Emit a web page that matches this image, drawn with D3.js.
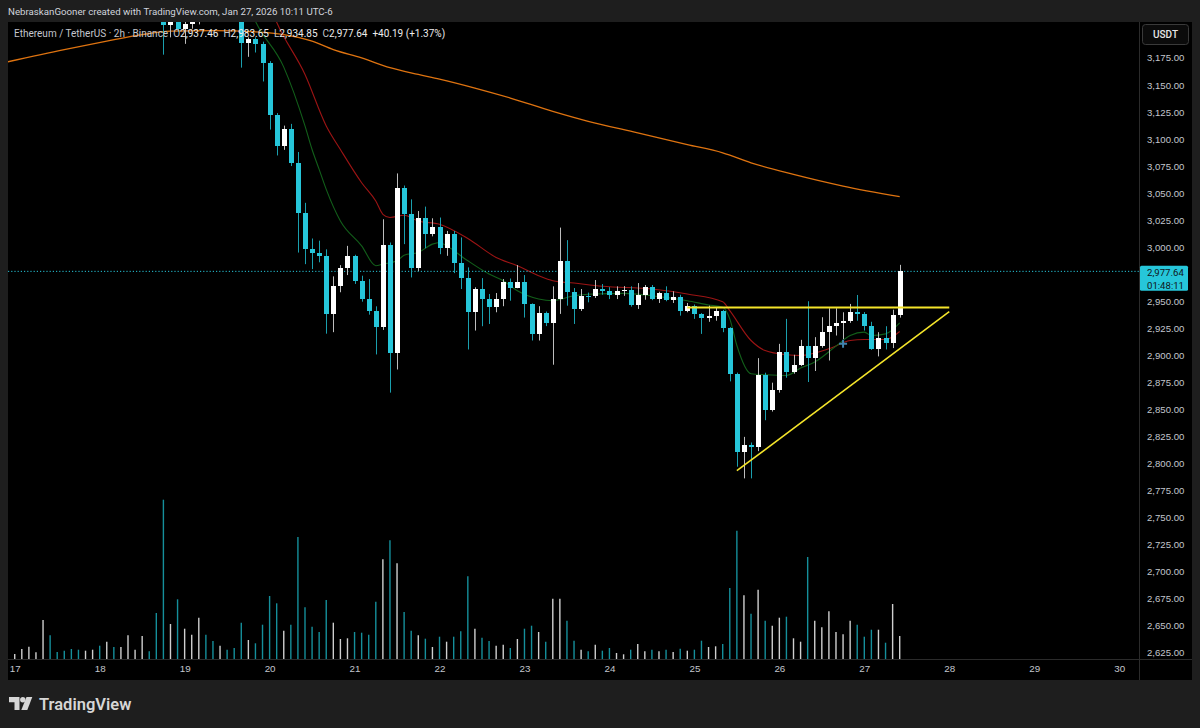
<!DOCTYPE html>
<html>
<head>
<meta charset="utf-8">
<title>Ethereum / TetherUS 2h</title>
<script src="https://cdn.jsdelivr.net/npm/d3@7"></script>
<style>
    html, body { margin: 0; padding: 0; background: #1e1e1e; }
    svg { display: block; font-family: Roboto, 'Noto Sans', sans-serif; }
</style>
</head>
<body>
<svg id="chart"></svg>
<script>
// 2h candles, index 0 = Jan 17 00:00 (UTC-6), 12 candles per day
const opens = [
    3288, 3296, 3302, 3309, 3312, 3334, 3318, 3315, 3311, 3306, 3302, 3306,
    3309, 3301, 3310, 3303, 3307, 3318, 3321, 3329, 3324, 3290, 3205.5, 3214,
    3201.5, 3206, 3208.5, 3216, 3214, 3213, 3222, 3217, 3213, 3188.6, 3192.3, 3188,
    3170.2, 3122.5, 3093.3, 3109.4, 3078, 3032, 2998.2, 2995, 2992, 2938.3, 2964.3, 2980.6,
    2991.4, 2969, 2952.1, 2941.3, 2926.6, 3001.8, 2902.3, 3055, 3030.4, 2980.6, 3027.4, 3012,
    3018.4, 2999, 3012.6, 2985.3, 2971.4, 2940.4, 2961.3, 2952.1, 2945, 2952.1, 2968, 2962.5,
    2967.5, 2947.2, 2919.8, 2939.2, 2929.7, 2952.1, 2986.8, 2958.3, 2942.9, 2955.1, 2954.5, 2961.3,
    2959.5, 2955.8, 2959.5, 2960.5, 2946.8, 2956, 2962.9, 2952.1, 2957.3, 2951.4, 2954.2, 2941.3,
    2945.9, 2938.3, 2934.3, 2936.7, 2941, 2925.1, 2883, 2810.8, 2816.9, 2815.5, 2881.4, 2849.2,
    2868.2, 2903.5, 2884.5, 2891.3, 2908.5, 2897.7, 2908.5, 2922, 2927.5, 2929.7, 2931.6, 2940.4,
    2938, 2927.5, 2906, 2915.9, 2911.3, 2937.46
]
const highs = [
    3300, 3306, 3313, 3316, 3342, 3338, 3322, 3319, 3315, 3310, 3309, 3313,
    3312, 3316, 3313, 3311, 3324, 3325, 3336, 3332, 3327, 3294, 3216, 3218,
    3210, 3214, 3220, 3222, 3220, 3228, 3226, 3221, 3216, 3194, 3194, 3190,
    3172, 3124, 3112.4, 3114, 3088, 3041, 3008, 3006, 2998, 2973, 2983.4, 3001.2,
    2993, 2973.6, 2970.5, 2945.3, 3025.8, 3004.3, 3068.2, 3057, 3044.2, 3033.4, 3037.5, 3026.7,
    3027.4, 3015, 3015, 3009, 2981.3, 2962.9, 2971.4, 2956.7, 2957.6, 2970.5, 2971, 2983.4,
    2974.2, 2948, 2945.4, 2940.5, 2963.8, 3018.1, 3006.5, 2962.2, 2961.3, 2958, 2969.6, 2965.9,
    2963, 2963.8, 2964, 2963.8, 2966.8, 2965, 2965, 2958.8, 2963.8, 2959.2, 2956, 2948.4,
    2947, 2939, 2945.9, 2944, 2942, 2926, 2884, 2824.6, 2819.4, 2897.4, 2883.9, 2874.7,
    2910.6, 2933.7, 2900.5, 2914.3, 2950, 2916.8, 2935.2, 2943.5, 2943.5, 2939.8, 2947.5, 2955.8,
    2940, 2931, 2921.4, 2926.9, 2942.2, 2983.65
]
const lows = [
    3284, 3292, 3298, 3305, 3308, 3312, 3310, 3307, 3302, 3298, 3299, 3303,
    3296, 3298, 3299, 3300, 3304, 3314, 3316, 3319, 3278, 3178, 3194, 3199,
    3188, 3202, 3206, 3212, 3211, 3211, 3213, 3210, 3166, 3176, 3180, 3153.2,
    3108.7, 3084.8, 3090, 3075, 2995, 2984.3, 2979.7, 2986, 2920, 2921.4, 2958.3, 2974.2,
    2966, 2949.6, 2937.6, 2900.8, 2923.5, 2865.5, 2886.9, 3002.8, 2972, 2978, 2999, 3010,
    2993.5, 2992, 2976, 2961.3, 2905.4, 2922.9, 2926.9, 2929, 2939.8, 2945.4, 2950.5, 2962,
    2934.9, 2913.7, 2913.7, 2927, 2891.3, 2938.3, 2945.9, 2929, 2941, 2949, 2953, 2956,
    2952, 2952, 2955, 2945, 2942.9, 2951.4, 2951, 2948.4, 2950, 2948.4, 2936.7, 2939.8,
    2933.7, 2919.8, 2931, 2932, 2921.4, 2875.9, 2797, 2786.2, 2786.2, 2811.4, 2840, 2848,
    2865.5, 2879.3, 2883, 2890, 2875.3, 2885.5, 2907, 2895.2, 2918.3, 2915, 2930, 2932,
    2922.9, 2905, 2899, 2905.4, 2906.7, 2934.85
]
const closes = [
    3296, 3302, 3309, 3312, 3334, 3318, 3315, 3311, 3306, 3302, 3306, 3309,
    3301, 3310, 3303, 3307, 3318, 3321, 3329, 3324, 3290, 3205.5, 3214, 3201.5,
    3206, 3208.5, 3216, 3214, 3213, 3222, 3217, 3213, 3188.6, 3192.3, 3187.9, 3170.2,
    3122.5, 3093.3, 3109.4, 3078, 3032, 2998.2, 2995, 2992, 2938.3, 2964.3, 2980.6, 2991.4,
    2969, 2952.1, 2941.3, 2926.6, 3001.8, 2902.3, 3055, 3030.4, 2980.6, 3027.4, 3012, 3018.4,
    2999, 3012.6, 2985.3, 2971.4, 2940.4, 2961.3, 2952.1, 2945, 2952.1, 2968, 2962.5, 2967.5,
    2947.2, 2919.8, 2939.2, 2929.7, 2952.1, 2986.8, 2958.3, 2942.9, 2955.1, 2954.5, 2961.3, 2959.5,
    2955.8, 2959.5, 2960.5, 2946.8, 2956, 2962.9, 2952.1, 2957.3, 2951.4, 2954.2, 2941.3, 2945.9,
    2938.3, 2934.3, 2936.7, 2941, 2925.1, 2883, 2810.8, 2816.9, 2815.5, 2881.4, 2849.2, 2868.2,
    2903.5, 2884.5, 2891.3, 2908.5, 2897.7, 2908.5, 2922, 2927.5, 2929.7, 2931.6, 2940.4, 2938,
    2927.5, 2906, 2915.9, 2911.3, 2937.46, 2977.64
]
// volume in hundreds of ETH
const volumes = [
    5.0, 10.0, 12.3, 6.7, 39.0, 23.7, 7.0, 8.3, 10.0, 9.3, 8.3, 9.3,
    13.3, 17.3, 12.0, 12.0, 23.7, 9.3, 23.0, 7.7, 46.0, 159.3, 35.0, 59.7,
    30.3, 24.3, 41.3, 24.3, 18.0, 13.3, 9.3, 11.0, 36.3, 19.0, 15.7, 34.3,
    63.0, 55.7, 28.3, 34.3, 122.0, 51.7, 32.3, 27.0, 59.0, 36.3, 20.0, 20.7,
    27.0, 26.3, 24.3, 57.3, 99.7, 118.7, 95.7, 47.0, 28.3, 23.7, 20.3, 12.0,
    22.3, 17.3, 22.3, 27.7, 82.7, 30.3, 21.3, 18.0, 13.3, 14.3, 11.0, 20.0,
    30.3, 33.3, 27.0, 17.3, 60.3, 60.3, 38.3, 18.3, 9.3, 7.7, 14.3, 8.3,
    11.0, 6.0, 4.7, 9.3, 15.0, 7.7, 9.3, 7.7, 9.3, 7.0, 10.3, 8.3,
    9.3, 18.3, 12.0, 12.7, 15.0, 71.0, 128.3, 63.7, 45.3, 69.3, 38.3, 33.3,
    41.3, 42.3, 20.7, 17.3, 102.0, 38.3, 31.7, 47.7, 27.0, 24.7, 38.3, 34.3,
    22.3, 29.3, 29.3, 16.3, 55.0, 23.0
]

const dayLabels = ['17', '18', '19', '20', '21', '22', '23', '24', '25', '26', '27', '28', '29', '30']
const priceTicks = [2625, 2650, 2675, 2700, 2725, 2750, 2775, 2800, 2825, 2850, 2875, 2900,
    2925, 2950, 2975, 3000, 3025, 3050, 3075, 3100, 3125, 3150, 3175]

// moving averages as [candle index, price]
const maSlowIdx = [-1, 7, 13, 18, 22, 28, 34, 38, 42, 45, 49, 53, 57, 60, 65, 70, 76, 81, 88, 95, 100, 104, 110, 117, 125]
const maSlowVals = [3171.4, 3182.7, 3190.5, 3196.5, 3199.7, 3200.2, 3199, 3196.5, 3190.5, 3182.7, 3175, 3165.9,
    3159.7, 3155.4, 3147.1, 3137.9, 3125.6, 3116.4, 3105.7, 3094.9, 3087.3, 3078, 3067.3, 3056.5, 3046.7]
const maMidIdx = [36, 37, 41, 44, 46, 49, 51, 52, 53, 55, 57, 60, 64, 68, 71, 74, 76, 79, 83, 90, 95, 100, 101, 104, 106, 109, 111, 115, 118, 120, 123, 125]
const maMidVals = [3223.9, 3208, 3159.7, 3112.1, 3090.3, 3059.6, 3042.7, 3030.4, 3027.4, 3029.5, 3024.2, 3021.2,
    3008, 2990.5, 2982.8, 2973.6, 2969, 2966.8, 2963.8, 2961.3, 2956.7, 2949.6, 2941.3, 2913.7,
    2904.4, 2900.5, 2899.8, 2906, 2913.7, 2914.6, 2914.6, 2922]
const maFastIdx = [33, 34, 38, 41, 42, 43, 44, 46, 49, 51, 52, 54, 55, 57, 59, 60, 61, 64, 67, 69, 71, 74, 76, 79,
    82, 86, 90, 95, 98, 100, 101, 102, 104, 106, 109, 111, 113, 116, 118, 120, 121, 123, 125]
const maFastVals = [3223.9, 3208.9, 3166.5, 3112.1, 3090.3, 3071.9, 3053.4, 3024.2, 3001.2, 2982.8, 2984.3, 2987.4,
    2992.6, 2995.1, 3002.8, 3004.3, 3001.2, 2987.4, 2975.1, 2968.9, 2959.7, 2952.1, 2950.5, 2955.1,
    2956.7, 2957.3, 2955.1, 2950.5, 2946.6, 2944.4, 2933.7, 2909.1, 2883, 2882.1, 2881.4, 2888.2,
    2893.8, 2908.5, 2918.3, 2921.4, 2918.3, 2919.8, 2930]

// ascending triangle drawing: [startIdx, startPrice, endIdx, endPrice]
const resistanceLine = [95, 2944.1, 132, 2944.1]
const supportLine = [102, 2793.3, 132, 2940.4]
const cursorMark = [117, 2910.6]

const lastPrice = 2977.64
const countdown = '01:48:11'
const legendTitle = 'Ethereum / TetherUS · 2h · Binance'
const legendItems = [['O', '2,937.46'], ['H', '2,983.65'], ['L', '2,934.85'], ['C', '2,977.64']]
const legendChange = '+40.19 (+1.37%)'
const headerText = 'NebraskanGooner created with TradingView.com, Jan 27, 2026 10:11 UTC-6'

const colors = {
    frame: '#1e1e1e',
    panel: '#000000',
    border: '#2b2b2b',
    up: '#ffffff',
    upWick: '#bdbdbd',
    down: '#26c6da',
    downWick: '#1a9fae',
    volUp: '#cfcfcf',
    volDown: '#158f9b',
    maSlow: '#de7310',
    maMid: '#9c1414',
    maFast: '#125f1a',
    drawing: '#f4e42a',
    text: '#c3c6cd',
}

const W = 1200
const H = 728
const panel = { left: 8, right: 1192, top: 22, bottom: 680 }
const plot = { left: 8, right: 1139, top: 22, bottom: 659 }
const candlesPerDay = 12

const svg = d3.select('#chart').attr('width', W).attr('height', H)

svg.append('rect').attr('width', W).attr('height', H).attr('fill', colors.frame)
svg.append('rect')
    .attr('x', panel.left).attr('y', panel.top)
    .attr('width', panel.right - panel.left).attr('height', panel.bottom - panel.top)
    .attr('fill', colors.panel)

svg.append('defs').append('clipPath').attr('id', 'plot-clip')
    .append('rect')
    .attr('x', plot.left).attr('y', plot.top)
    .attr('width', plot.right - plot.left).attr('height', plot.bottom - plot.top)

const x = d3.scaleLinear().domain([-0.95, 158.8]).range([plot.left, plot.right])
const y = d3.scaleLinear().domain([2619.2, 3208.2]).range([plot.bottom, plot.top])
const vol = d3.scaleLinear().domain([0, 160]).range([plot.bottom, plot.bottom - 160])

const candles = closes.map((c, i) => ({ i, o: opens[i], h: highs[i], l: lows[i], c, v: volumes[i] }))

const g = svg.append('g').attr('clip-path', 'url(#plot-clip)')

// volume
g.append('g').selectAll('line')
    .data(candles)
    .join('line')
    .attr('x1', d => x(d.i)).attr('x2', d => x(d.i))
    .attr('y1', vol(0)).attr('y2', d => vol(d.v))
    .attr('stroke', d => d.c >= d.o ? colors.volUp : colors.volDown)
    .attr('stroke-width', 1.4)

// moving averages
const maLine = d3.line().x(d => x(d[0])).y(d => y(d[1])).curve(d3.curveMonotoneX)
const maSeries = [
    [maSlowIdx, maSlowVals, colors.maSlow, 1.3],
    [maMidIdx, maMidVals, colors.maMid, 1.1],
    [maFastIdx, maFastVals, colors.maFast, 1.1],
]
maSeries.forEach(([idx, vals, color, w]) => {
    g.append('path')
        .datum(idx.map((d, k) => [d, vals[k]]))
        .attr('d', maLine)
        .attr('fill', 'none')
        .attr('stroke', color)
        .attr('stroke-width', w)
})

// last price dotted line
g.append('line')
    .attr('x1', plot.left).attr('x2', plot.right)
    .attr('y1', y(lastPrice)).attr('y2', y(lastPrice))
    .attr('stroke', colors.down)
    .attr('stroke-dasharray', '1.2,2')

// candles
const cg = g.append('g').selectAll('g').data(candles).join('g')
cg.append('line')
    .attr('x1', d => Math.round(x(d.i)) + 0.5).attr('x2', d => Math.round(x(d.i)) + 0.5)
    .attr('y1', d => y(d.h)).attr('y2', d => y(d.l))
    .attr('stroke', d => d.c >= d.o ? colors.upWick : colors.downWick)
cg.append('rect')
    .attr('x', d => Math.round(x(d.i)) - 2)
    .attr('width', 5)
    .attr('y', d => y(Math.max(d.o, d.c)))
    .attr('height', d => Math.max(1, Math.abs(y(d.o) - y(d.c))))
    .attr('fill', d => d.c >= d.o ? colors.up : colors.down)
    .attr('shape-rendering', 'crispEdges')

// triangle drawing
;[resistanceLine, supportLine].forEach(([i0, p0, i1, p1], k) => {
    g.append('line')
        .attr('x1', x(i0)).attr('y1', y(p0))
        .attr('x2', x(i1)).attr('y2', y(p1))
        .attr('stroke', colors.drawing)
        .attr('stroke-width', k === 0 ? 2 : 1.6)
})

// cursor cross
const cx = x(cursorMark[0])
const cy = y(cursorMark[1])
g.append('path')
    .attr('d', `M${cx - 4},${cy}H${cx + 4}M${cx},${cy - 4}V${cy + 4}`)
    .attr('stroke', '#3f83ad')
    .attr('stroke-width', 2)

// borders
svg.append('line')
    .attr('x1', plot.right + 0.5).attr('x2', plot.right + 0.5)
    .attr('y1', panel.top).attr('y2', panel.bottom)
    .attr('stroke', colors.border)
svg.append('line')
    .attr('x1', panel.left).attr('x2', panel.right)
    .attr('y1', plot.bottom + 0.5).attr('y2', plot.bottom + 0.5)
    .attr('stroke', colors.border)

// price axis
const yAxis = d3.axisRight(y)
    .tickValues(priceTicks)
    .tickFormat(d3.format(',.2f'))
    .tickSize(0)
    .tickPadding(8)
svg.append('g')
    .attr('transform', `translate(${plot.right},0)`)
    .call(yAxis)
    .call(a => a.select('.domain').remove())
    .call(a => a.selectAll('text').attr('fill', colors.text).attr('font-size', 9.6).attr('font-family', null))

// time axis
const xAxis = d3.axisBottom(x)
    .tickValues(dayLabels.map((d, k) => k * candlesPerDay))
    .tickFormat((d, k) => dayLabels[k])
    .tickSize(0)
    .tickPadding(6)
svg.append('g')
    .attr('transform', `translate(0,${plot.bottom})`)
    .call(xAxis)
    .call(a => a.select('.domain').remove())
    .call(a => a.selectAll('text').attr('fill', colors.text).attr('font-size', 9.8).attr('font-family', null))

// last price tag
const tagY = y(lastPrice)
svg.append('rect')
    .attr('x', plot.right + 1).attr('y', tagY - 5.5)
    .attr('width', 48).attr('height', 25)
    .attr('rx', 1.5)
    .attr('fill', colors.down)
svg.append('text')
    .attr('x', plot.right + 8).attr('y', tagY + 4.6)
    .attr('font-size', 9.6).attr('fill', '#101418')
    .text(d3.format(',.2f')(lastPrice))
svg.append('text')
    .attr('x', plot.right + 8).attr('y', tagY + 17.2)
    .attr('font-size', 9.6).attr('fill', '#101418')
    .text(countdown)

// currency button
svg.append('rect')
    .attr('x', 1142.5).attr('y', 24.5)
    .attr('width', 46).attr('height', 20).attr('rx', 3)
    .attr('fill', '#0b0b0b').attr('stroke', '#3a3a3a')
svg.append('text')
    .attr('x', 1165.5).attr('y', 38.3)
    .attr('text-anchor', 'middle')
    .attr('font-size', 10).attr('font-weight', 500).attr('fill', '#e6e6e6')
    .text('USDT')

// header
svg.append('text')
    .attr('x', 8).attr('y', 15)
    .attr('font-size', 9.7).attr('fill', '#d1d4dc')
    .text(headerText)

// legend
const legend = svg.append('text')
    .attr('x', 14).attr('y', 37)
    .attr('font-size', 10)
    .attr('fill', colors.text)
legend.append('tspan').text(legendTitle)
legendItems.forEach(([k, v]) => {
    legend.append('tspan').attr('dx', 5).text(k)
    legend.append('tspan').attr('fill', '#ececec').text(v)
})
legend.append('tspan').attr('dx', 5).attr('fill', '#ececec').text(legendChange)

// TradingView logo
const logo = svg.append('g').attr('transform', 'translate(9,697)').attr('fill', '#d6d6d6')
logo.append('path').attr('d', 'M0,0H10.5V13H5.5V5.3H0Z')
logo.append('circle').attr('cx', 13.8).attr('cy', 2.7).attr('r', 2.7)
logo.append('path').attr('d', 'M17.5,0H23.3L18.3,13H12.3Z')
svg.append('text')
    .attr('x', 39).attr('y', 710)
    .attr('font-size', 16.5).attr('font-weight', 600).attr('fill', '#d6d6d6')
    .text('TradingView')
</script>
</body>
</html>
